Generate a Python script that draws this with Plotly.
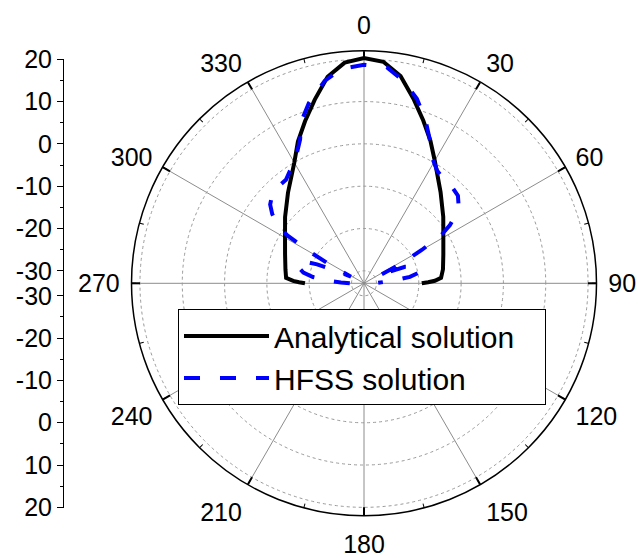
import plotly.graph_objects as go

# ---------------- data ----------------
analytical_theta = [-90, -89, -88, -86, -80, -70, -60, -50, -40, -30, -25, -20, -15, -10, -5, 0,
                    5, 10, 15, 20, 25, 30, 40, 50, 60, 70, 80, 86, 88, 89, 90]
analytical_r = [-19.0, -17.6, -16.2, -14.5, -14.1, -13.1, -11.4, -8.6, -5.0, 0.0, 4.0, 7.8, 12.0, 16.6, 19.4, 20.3,
                19.6, 16.8, 12.2, 8.0, 4.2, 0.5, -4.8, -8.5, -11.3, -13.0, -14.0, -14.7, -16.2, -17.8, -19.3]

hfss_theta = [-90, -88, -86, -83, -80, -76, -73, -70, -68, -66, -63, -61.5, -60, -58, -56, -53, -50, -46,
              -42, -37, -33, -29, -24, -21, -17, -11, -6, 0, 6, 11, 16, 20.5, 24.5, 28.5, 33, 38, 43, 47,
              50, 53, 56, 58, 60, 62, 63.5, 65.5, 68, 72, 76, 79, 82, 84, 86, 88]
hfss_r = [-29.6, -27.5, -24.8, -20.8, -18.4, -16.9, -16.6, -17.8, -21.0, -25.5, -29.5, -24.0, -19.0, -11.5,
          -8.5, -5.8, -4.0, -2.8, -2.4, -2.3, -1.0, 0.5, 4.2, 8.2, 11.6, 15.8, 18.0, 18.7, 18.4, 15.8, 12.4,
          8.4, 4.5, 0.8, -1.2, -2.0, -2.2, -2.6, -3.8, -5.6, -8.5, -11.4, -17.2, -23.0, -29.5, -26.5, -22.5,
          -20.2, -19.3, -19.7, -22.0, -25.2, -28.0, -29.6]

series_names = ["Analytical solution", "HFSS solution"]

angle_ticks = [0, 30, 60, 90, 120, 150, 180, 210, 240, 270, 300, 330]
angle_minor = [0, 15, 30, 45, 60, 75, 90, 105, 120, 135, 150, 165, 180, 195, 210, 225, 240, 255, 270,
               285, 300, 315, 330, 345]
radial_ticks = [-30, -20, -10, 0, 10, 20]
radial_minor = [-25, -15, -5, 5, 15]
r_min, r_max = -30, 22

# ---------------- geometry ----------------
W, H = 638, 558
cx, cy = 364.0, 283.3          # centre of the polar plot (px in figure)
R = 232.5                      # outer radius (px)
hole_px = 12.5                 # offset of the -30 dB circle from the centre (px)
scale = (R - hole_px) / (r_max - r_min)
r_origin = r_min - hole_px / scale   # value sitting at the very centre

FONT = "Arial, Liberation Sans, sans-serif"
PAD = "\u00a0\u00a0\u00a0"      # widens the legend box a little


def rad_px(v):
    return (v - r_origin) * scale


# left linear radial scale (upper half then mirrored lower half)
left_vals, left_text = [], []
for v in radial_ticks:
    left_vals.append(cy - rad_px(v)); left_text.append(str(v))
    left_vals.append(cy + rad_px(v)); left_text.append(str(v))
left_minor = [cy - rad_px(v) for v in radial_minor] + [cy + rad_px(v) for v in radial_minor]
y_top = cy - rad_px(20) - 0.5
y_bot = cy + rad_px(20) + 0.5
axis_x = 64

fig = go.Figure()

fig.add_trace(go.Scatterpolar(
    theta=analytical_theta, r=analytical_r, mode="lines", name=series_names[0] + PAD,
    line=dict(color="black", width=4), subplot="polar"))
fig.add_trace(go.Scatterpolar(
    theta=hfss_theta, r=hfss_r, mode="lines", name=series_names[1],
    line=dict(color="#0000FF", width=4, dash="16px,20px"), subplot="polar"))
# helper traces for the tick-mark overlays and the left scale
fig.add_trace(go.Scatterpolar(theta=[None], r=[None], showlegend=False, hoverinfo="skip",
                              subplot="polar2"))
fig.add_trace(go.Scatterpolar(theta=[None], r=[None], showlegend=False, hoverinfo="skip",
                              subplot="polar3"))
fig.add_trace(go.Scatter(x=[None], y=[None], showlegend=False, hoverinfo="skip"))

dom_x = [(cx - R) / W, (cx + R) / W]
dom_y = [(H - cy - R) / H, (H - cy + R) / H]


def overlay(tvals, tlen, twidth):
    return dict(
        domain=dict(x=dom_x, y=dom_y),
        bgcolor="rgba(0,0,0,0)",
        radialaxis=dict(range=[r_origin, r_max], visible=False),
        angularaxis=dict(rotation=90, direction="clockwise", tickvals=tvals,
                         ticks="inside", ticklen=tlen, tickwidth=twidth, tickcolor="black",
                         showticklabels=False, showline=False, showgrid=False),
    )


fig.update_layout(
    width=W, height=H,
    margin=dict(l=0, r=0, t=0, b=0, autoexpand=False),
    paper_bgcolor="white", plot_bgcolor="white",
    font=dict(family=FONT, color="black", size=25),
    polar=dict(
        domain=dict(x=dom_x, y=dom_y),
        bgcolor="white",
        radialaxis=dict(range=[r_origin, r_max], tickvals=radial_ticks, showticklabels=False,
                        ticks="", showline=False, showgrid=True, gridcolor="#9a9a9a",
                        griddash="dot", gridwidth=1),
        angularaxis=dict(rotation=90, direction="clockwise", tickvals=angle_ticks,
                         ticktext=[str(a) for a in angle_ticks], ticks="outside", ticklen=6,
                         tickcolor="rgba(0,0,0,0)", showline=True, linecolor="black",
                         linewidth=1.5, showgrid=True, gridcolor="#8c8c8c", gridwidth=1,
                         tickfont=dict(size=25, family=FONT, color="black")),
    ),
    polar2=overlay(angle_ticks, 8, 1.5),
    polar3=overlay(angle_minor, 4, 1),
    xaxis=dict(domain=[axis_x / W, 0.15], visible=False, range=[0, 1]),
    yaxis=dict(domain=[(H - y_bot) / H, (H - y_top) / H], range=[y_bot, y_top],
               anchor="x", side="left", showline=True, linecolor="black", linewidth=1,
               showgrid=False, zeroline=False, ticks="outside", ticklen=6, tickcolor="black",
               tickvals=left_vals, ticktext=left_text, tickfont=dict(size=25, family=FONT),
               automargin=False,
               minor=dict(tickvals=left_minor, ticks="outside", ticklen=3, tickcolor="black")),
    showlegend=True,
    legend=dict(x=178 / W, y=1 - 309 / H, xanchor="left", yanchor="top",
                bgcolor="white", bordercolor="black", borderwidth=1,
                font=dict(size=30, family=FONT, color="black"), itemwidth=85),
)

fig.write_html(
    "out.html",
    config={"displayModeBar": False},
    post_script="document.body.style.margin='0';document.body.style.overflow='hidden';",
)
